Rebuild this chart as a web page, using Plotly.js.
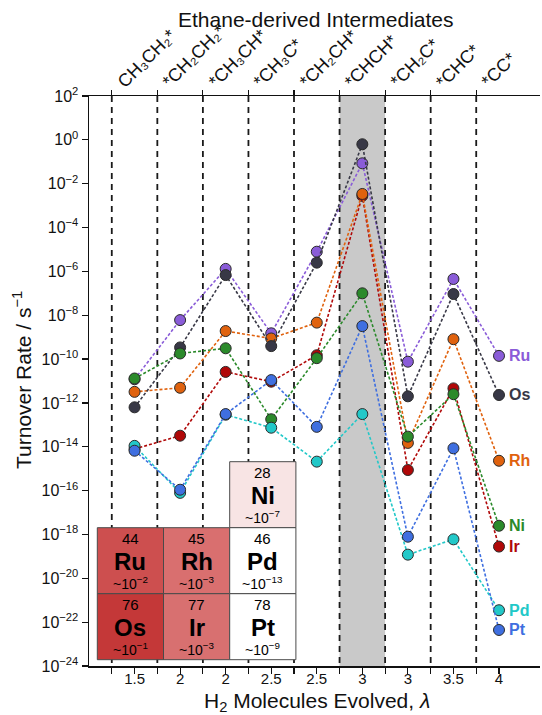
<!DOCTYPE html>
<html>
<head>
<meta charset="utf-8">
<script src="https://cdn.plot.ly/plotly-3.0.1.min.js"></script>
<style>html,body{margin:0;padding:0;background:#fff;}#chart{width:542px;height:715px;}</style>
</head>
<body>
<div id="chart"></div>
<script>
// ---- data ----
const lambdaLabels = ['1.5', '2', '2', '2.5', '2.5', '3', '3', '3.5', '4'];
const intermediates = ['CH₃CH₂*', '*CH₂CH₂*', '*CH₃CH*', '*CH₃C*', '*CH₂CH*', '*CHCH*', '*CH₂C*', '*CHC*', '*CC*'];
const yTickExponents = [2, 0, -2, -4, -6, -8, -10, -12, -14, -16, -18, -20, -22, -24];
const metals = ['Ru', 'Ir', 'Rh', 'Os', 'Ni', 'Pd', 'Pt'];
const rateRu = [1.2e-11, 6.0e-9, 1.3e-6, 1.5e-9, 7.9e-6, 8.5e-2, 7.6e-11, 4.5e-7, 1.4e-10];
const rateOs = [6.3e-13, 3.4e-10, 6.8e-7, 3.9e-10, 2.5e-6, 6.3e-1, 2.0e-12, 9.3e-8, 2.3e-12];
const rateRh = [3.2e-12, 4.9e-12, 1.9e-9, 8.7e-10, 4.6e-9, 3.4e-3, 1.5e-14, 8.1e-10, 2.3e-15];
const rateNi = [1.3e-11, 1.8e-10, 3.1e-10, 1.8e-13, 1.1e-10, 1.0e-7, 2.9e-14, 2.5e-12, 2.5e-18];
const rateIr = [7.9e-15, 3.2e-14, 2.6e-11, 9.3e-12, 1.5e-10, 2.8e-3, 8.7e-16, 4.6e-12, 2.8e-19];
const ratePd = [1.1e-14, 7.9e-17, 2.9e-13, 7.4e-14, 2.1e-15, 3.1e-13, 1.2e-19, 6.0e-19, 3.5e-22];
const ratePt = [6.6e-15, 1.1e-16, 3.1e-13, 1.1e-11, 8.1e-14, 3.2e-9, 7.9e-19, 8.5e-15, 4.4e-23];
const rates = {Ru: rateRu, Os: rateOs, Rh: rateRh, Ni: rateNi, Ir: rateIr, Pd: ratePd, Pt: ratePt};

// inset periodic table
const tableSymbols = ['Ni', 'Ru', 'Rh', 'Pd', 'Os', 'Ir', 'Pt'];
const tableNumbers = [28, 44, 45, 46, 76, 77, 78];
const tableExponents = ['−7', '−2', '−3', '−13', '−1', '−3', '−9'];
const tableRows = [0, 1, 1, 1, 2, 2, 2];
const tableCols = [2, 0, 1, 2, 0, 1, 2];

// ---- styles ----
const colors = {Ru: '#8a5cd8', Os: '#383846', Rh: '#e0620e', Ni: '#2b8a2b', Ir: '#b00808', Pd: '#22c8c8', Pt: '#3f6fe0'};
const cellColors = {Ni: '#f8e4e4', Ru: '#cd4f4f', Rh: '#d96f6f', Pd: '#ffffff', Os: '#c43838', Ir: '#d87070', Pt: '#ffffff'};
const FONT = 'Liberation Sans, Arial, Helvetica, sans-serif';

const W = 542, H = 715;
const M = {l: 89, r: 2, t: 96, b: 49};
const pw = W - M.l - M.r, ph = H - M.t - M.b;
const px2x = p => (p - M.l) / pw;
const py2y = p => (H - M.b - p) / ph;

const xIdx = lambdaLabels.map((_, i) => i);

const traces = metals.map(m => ({
  type: 'scatter', mode: 'lines+markers', name: m,
  x: xIdx, y: rates[m],
  line: {color: colors[m], width: 1.6, dash: '3px,2px'},
  marker: {color: colors[m], size: 11, line: {color: '#2a2a2a', width: 1}},
  hoverinfo: 'x+y+name', cliponaxis: false
}));
traces.push({type: 'scatter', x: [0], y: [1], xaxis: 'x2', yaxis: 'y', mode: 'markers',
  marker: {opacity: 0}, showlegend: false, hoverinfo: 'skip'});

const shapes = [];
shapes.push({type: 'rect', xref: 'x', yref: 'paper', x0: 4.5, x1: 5.5, y0: 0, y1: 1,
  fillcolor: '#c9c9c9', line: {width: 0}, layer: 'below'});
const sepPositions = intermediates.map((_, i) => i - 0.5);
sepPositions.forEach(xv => {
  shapes.push({type: 'line', xref: 'x', yref: 'paper', x0: xv, x1: xv, y0: 1, y1: 0,
    line: {color: '#1a1a1a', width: 1.8, dash: '6px,5px'}, layer: 'below'});
});
const annotations = [];
intermediates.forEach((t, i) => {
  annotations.push({xref: 'x', yref: 'paper', x: sepPositions[i], y: py2y(93), text: t,
    textangle: -45, showarrow: false, xanchor: 'left', yanchor: 'bottom', xshift: 0, borderpad: 0,
    font: {family: FONT, size: 18, color: '#111'}});
});
const tabLeft = 97.3, cellW = 66.2, cellH = 66.0, tabTop = 461.7;
tableSymbols.forEach((s, k) => {
  const x0p = tabLeft + tableCols[k] * cellW;
  const y0p = tabTop + tableRows[k] * cellH;
  shapes.push({type: 'rect', xref: 'paper', yref: 'paper',
    x0: px2x(x0p), x1: px2x(x0p + cellW), y0: py2y(y0p + cellH), y1: py2y(y0p),
    fillcolor: cellColors[s], line: {color: '#4a4a4a', width: 1}, layer: 'below'});
  const cx = px2x(x0p + cellW / 2);
  annotations.push({xref: 'paper', yref: 'paper', x: cx, y: py2y(y0p + 10.5), text: String(tableNumbers[k]),
    showarrow: false, xanchor: 'center', yanchor: 'middle', borderpad: 0, font: {family: FONT, size: 15, color: '#000'}});
  annotations.push({xref: 'paper', yref: 'paper', x: cx, y: py2y(y0p + 34), text: '<b>' + s + '</b>',
    showarrow: false, xanchor: 'center', yanchor: 'middle', borderpad: 0, font: {family: FONT, size: 24, color: '#000'}});
  annotations.push({xref: 'paper', yref: 'paper', x: cx, y: py2y(y0p + 55), text: '~10<sup>' + tableExponents[k] + '</sup>',
    showarrow: false, xanchor: 'center', yanchor: 'middle', borderpad: 0, font: {family: FONT, size: 14, color: '#000'}});
});
metals.forEach(m => {
  const r = rates[m];
  annotations.push({xref: 'x', yref: 'y', x: xIdx[xIdx.length - 1], y: Math.log10(r[r.length - 1]),
    text: '<b>' + m + '</b>', showarrow: false, xanchor: 'left', yanchor: 'middle', xshift: 8,
    font: {family: FONT, size: 16, color: colors[m]}});
});
annotations.push({xref: 'paper', yref: 'paper', x: px2x(316), y: py2y(19), text: 'Ethane-derived Intermediates',
  showarrow: false, xanchor: 'center', yanchor: 'middle', font: {family: FONT, size: 21, color: '#111'}});
annotations.push({xref: 'paper', yref: 'paper', x: px2x(317), y: py2y(702), text: 'H<sub>2</sub> Molecules Evolved, <i>λ</i>',
  showarrow: false, xanchor: 'center', yanchor: 'middle', borderpad: 0, font: {family: FONT, size: 21, color: '#111'}});
annotations.push({xref: 'paper', yref: 'paper', x: px2x(22), y: py2y(380), text: 'Turnover Rate / s<sup>−1</sup>',
  showarrow: false, xanchor: 'center', yanchor: 'middle', textangle: -90, font: {family: FONT, size: 21, color: '#111'}});

const bottomVals = [], bottomText = [];
lambdaLabels.forEach((lab, i) => {
  bottomVals.push(i - 0.5); bottomText.push('');
  bottomVals.push(i); bottomText.push(lab);
});

const layout = {
  width: W, height: H, margin: M,
  paper_bgcolor: '#fff', plot_bgcolor: 'rgba(0,0,0,0)',
  showlegend: false,
  font: {family: FONT, color: '#111'},
  xaxis: {
    range: [-1, 8.9], tickmode: 'array', tickvals: bottomVals, ticktext: bottomText,
    ticks: 'outside', ticklen: 6, tickwidth: 1.2, tickcolor: '#111', ticklabelstandoff: -8,
    showline: true, linecolor: '#111', linewidth: 1.5, showgrid: false, zeroline: false,
    tickfont: {family: FONT, size: 15, color: '#111'}
  },
  xaxis2: {
    overlaying: 'x', side: 'top', anchor: 'y', range: [-1, 8.9],
    tickmode: 'array', tickvals: sepPositions, showticklabels: false,
    ticks: 'outside', ticklen: 5, tickwidth: 1.2, tickcolor: '#111',
    showline: true, linecolor: '#111', linewidth: 1.5, showgrid: false, zeroline: false
  },
  yaxis: {
    type: 'log', range: [-24, 2], tickmode: 'array',
    tickvals: yTickExponents.map(e => Math.pow(10, e)),
    ticktext: yTickExponents.map(e => '10<sup>' + (e < 0 ? '−' + (-e) : e) + '</sup>'),
    ticks: 'outside', ticklen: 6, tickwidth: 1.2, tickcolor: '#111',
    showline: true, linecolor: '#111', linewidth: 1.5, showgrid: false, zeroline: false,
    tickfont: {family: FONT, size: 16, color: '#111'}
  },
  shapes: shapes,
  annotations: annotations
};

Plotly.newPlot('chart', traces, layout, {displayModeBar: false, staticPlot: true});
</script>
</body>
</html>
